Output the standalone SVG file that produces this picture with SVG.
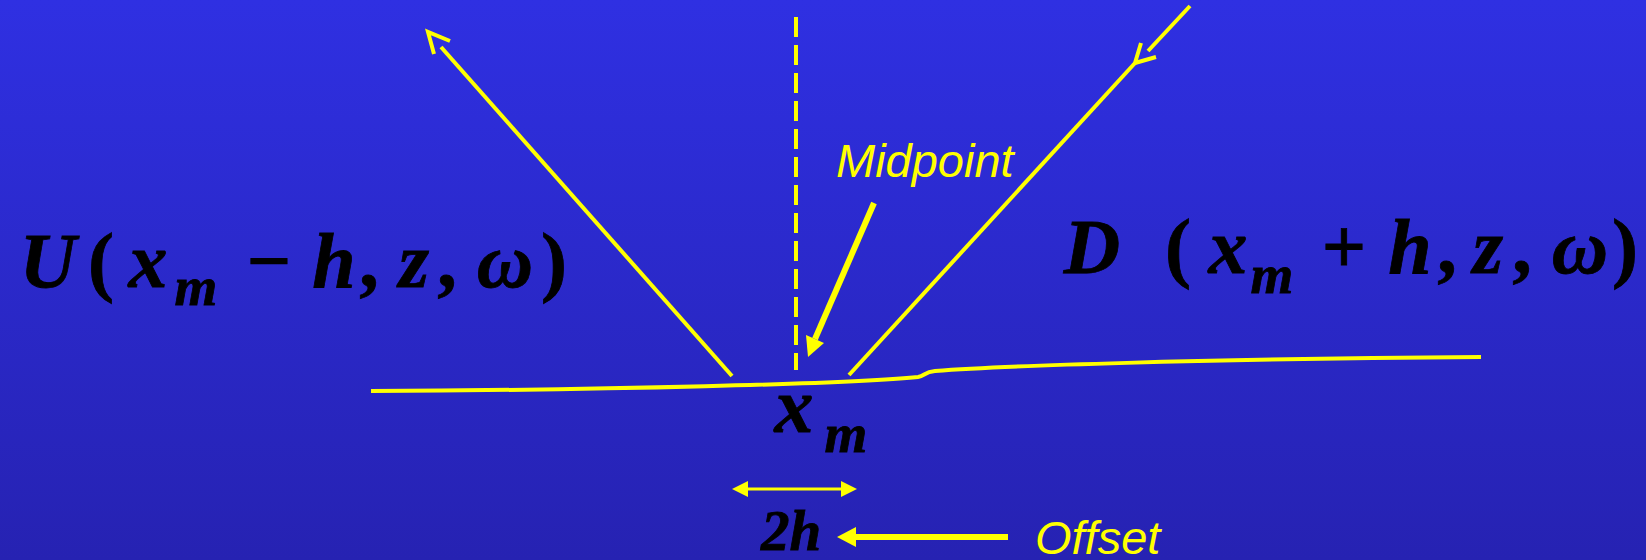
<svg xmlns="http://www.w3.org/2000/svg" width="1646" height="560" viewBox="0 0 1646 560">
<defs>
<linearGradient id="bg" x1="0" y1="0" x2="0" y2="1">
<stop offset="0" stop-color="#2F30E2"/>
<stop offset="1" stop-color="#2622B2"/>
</linearGradient>
<style>
.y{stroke:#FFFF00;fill:none;stroke-width:4}
.m{font-family:"Liberation Serif","Times New Roman",serif;font-weight:bold;font-style:italic;fill:#000;text-anchor:middle;stroke:#000;stroke-width:0.8}
.big{font-size:78px}
.sub{font-size:55px}
.up{font-style:normal}
.lab{font-family:"Liberation Sans",Arial,sans-serif;font-style:italic;font-size:47px;fill:#FFFF00}
</style>
</defs>
<rect width="1646" height="560" fill="url(#bg)"/>
<g id="connectors">
<path id="reflector" class="y" d="M371,391 C600,390 850,384 918,377 C925,376 924,372 935,371 C1000,366 1200,359 1481,357"/>
<line id="normal" class="y" x1="796" y1="17" x2="796" y2="370" stroke-dasharray="20 8"/>
<g id="upray">
<line class="y" x1="732" y1="376" x2="441" y2="47"/>
<polyline class="y" points="434,54 428,32 450,41"/>
</g>
<g id="downray">
<line class="y" x1="1190" y1="6" x2="1148" y2="51"/>
<polyline class="y" points="1141,43 1135,63 1156,57"/>
<line class="y" x1="1135" y1="63" x2="849" y2="375"/>
</g>
<g id="midarrow">
<line class="y" style="stroke-width:6" x1="874" y1="203" x2="815" y2="339"/>
<polygon points="808,357 824,343 806,335" fill="#FFFF00"/>
</g>
<g id="offsetspan">
<line class="y" style="stroke-width:3" x1="744" y1="489" x2="845" y2="489"/>
<polygon points="732,489 748,481 748,497" fill="#FFFF00"/>
<polygon points="857,489 841,481 841,497" fill="#FFFF00"/>
</g>
<g id="offsetarrow">
<line class="y" style="stroke-width:6" x1="1008" y1="537" x2="852" y2="537"/>
<polygon points="837,537 856,527 856,547" fill="#FFFF00"/>
</g>
</g>
<g id="U">
<text class="m big" x="48" y="287">U</text>
<text class="m big up" x="101" y="287">(</text>
<text class="m big" x="148" y="287">x</text>
<text class="m sub" x="196" y="305">m</text>
<text class="m big up" x="269" y="287">−</text>
<text class="m big" x="334" y="287">h</text>
<text class="m big up" x="369" y="287">,</text>
<text class="m big" x="414" y="287">z</text>
<text class="m big up" x="447" y="287">,</text>
<text class="m big" x="505" y="287">ω</text>
<text class="m big up" x="554" y="287">)</text>
</g>
<g id="D">
<text class="m big" x="1092" y="273">D</text>
<text class="m big up" x="1178" y="273">(</text>
<text class="m big" x="1228" y="273">x</text>
<text class="m sub" x="1272" y="293">m</text>
<text class="m big up" x="1344" y="273">+</text>
<text class="m big" x="1410" y="273">h</text>
<text class="m big up" x="1447" y="273">,</text>
<text class="m big" x="1488" y="273">z</text>
<text class="m big up" x="1522" y="273">,</text>
<text class="m big" x="1580" y="273">ω</text>
<text class="m big up" x="1625" y="273">)</text>
</g>
<g id="xm">
<text class="m big" x="794" y="432">x</text>
<text class="m sub" x="846" y="452">m</text>
</g>
<g id="twoh">
<text class="m" style="font-size:57px" x="791" y="550">2h</text>
</g>
<g id="midpoint">
<text class="lab" x="836" y="177">Midpoint</text>
</g>
<g id="offset">
<text class="lab" x="1035" y="554">Offset</text>
</g>
</svg>
